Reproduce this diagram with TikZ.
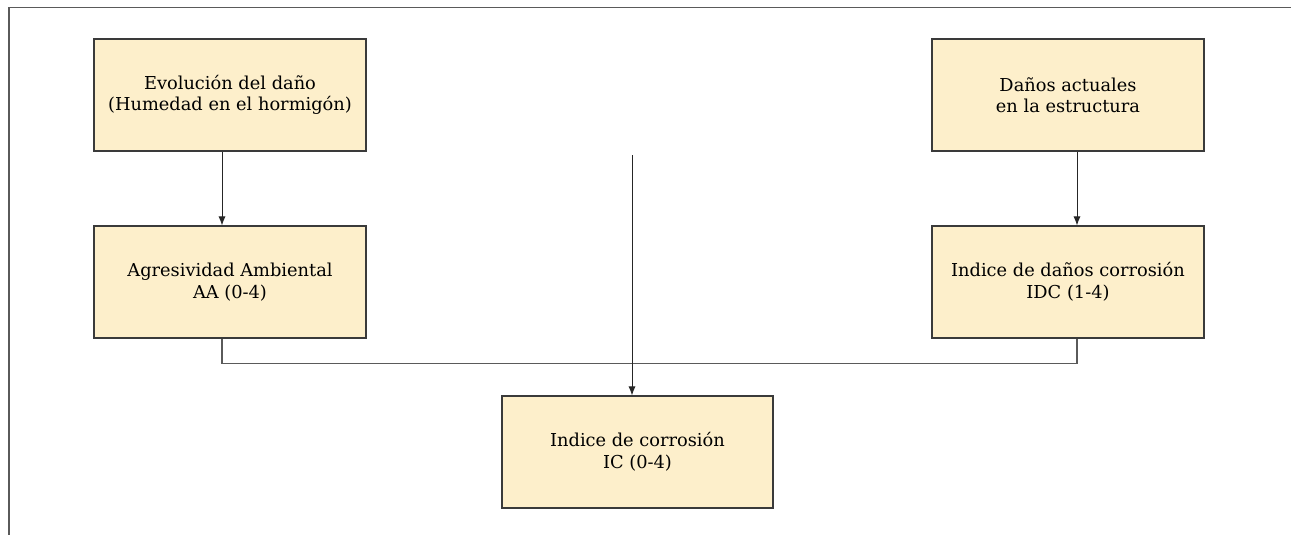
\documentclass[tikz,border=0pt]{standalone}
\usepackage{fontspec}
\setmainfont{DejaVu Serif}
\usetikzlibrary{arrows.meta}
\definecolor{boxfill}{HTML}{FDEFCB}
\definecolor{boxline}{HTML}{3A3A3A}
\definecolor{frameline}{HTML}{5A5A5A}
\definecolor{conline}{HTML}{5A5A5A}
\tikzset{
  box/.style={draw=boxline, fill=boxfill, line width=1.1pt, rectangle,
    minimum width=272pt, minimum height=112pt, align=center, inner sep=0pt,
    font=\fontsize{17.8}{21.5}\selectfont},
  arr/.style={draw=black!85, line width=0.9pt, -{Latex[length=9pt,width=7pt]}},
  con/.style={draw=conline, line width=1.2pt},
  frm/.style={draw=frameline, line width=1.6pt}
}
\begin{document}
\begin{tikzpicture}[x=1pt,y=-1pt]
\useasboundingbox (0,0) rectangle (1291,535);
\fill[white] (0,0) rectangle (1291,535);
\draw[frm] (9,535) -- (9,7.5) -- (1291,7.5);

\node[box] (b1) at (230,95) {Evolución del daño\\(Humedad en el hormigón)};
\node[box] (b2) at (1068,95) {Daños actuales\\en la estructura};
\node[box] (b3) at (230,282) {Agresividad Ambiental\\AA (0-4)};
\node[box] (b4) at (1068,282) {Indice de daños corrosión\\IDC (1-4)};
\node[box, minimum width=271pt] (b5) at (637.5,452) {Indice de corrosión\\IC (0-4)};

\draw[arr] ([xshift=-8pt]b1.south) -- ([xshift=-8pt]b3.north);
\draw[arr] ([xshift=9pt]b2.south) -- ([xshift=9pt]b4.north);
\draw[con] ([xshift=-8pt]b3.south) -- ++(0,25) -| ([xshift=9pt]b4.south);
\coordinate (mtop) at (632,155);
\draw[arr] (mtop) -- (b5.north -| mtop);
\end{tikzpicture}
\end{document}
